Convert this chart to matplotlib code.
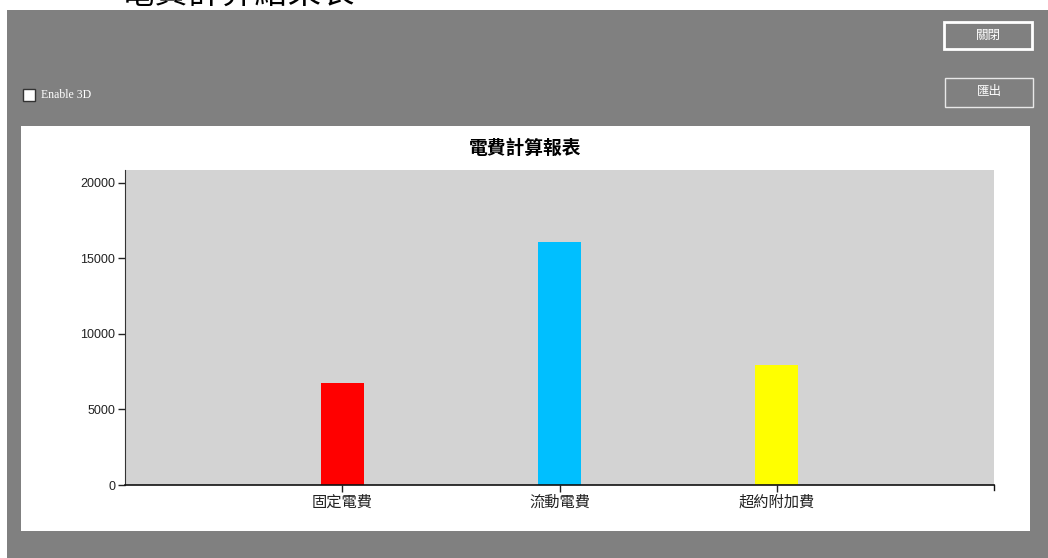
import matplotlib
matplotlib.use('Agg')
import matplotlib.pyplot as plt
from matplotlib.patches import Rectangle

plt.rcParams['font.family'] = ['Noto Sans CJK TC', 'DejaVu Sans']

# data
categories = ['固定電費', '流動電費', '超約附加費']
values = [6750, 16090, 7950]
colors = ['#FF0000', '#00BFFF', '#FFFF00']
yticks = [0, 5000, 10000, 15000, 20000]

W, H = 1048, 558
fig = plt.figure(figsize=(W / 100, H / 100), dpi=100)
fig.patch.set_facecolor('white')

def box(x0, y0, x1, y1):
    # pixel box -> figure fraction (left, bottom, width, height)
    return (x0 / W, 1 - y1 / H, (x1 - x0) / W, (y1 - y0) / H)

# heading cut off at top of screenshot (mostly hidden behind the form)
fig.text(80 / W, 1 - 3 / H, '‧ 電費計算結果表', fontsize=24, color='black',
         ha='left', va='baseline', zorder=-1)

# window form background
l, b, w, h = box(7, 10, W, H)
fig.patches.append(Rectangle((l, b), w, h, transform=fig.transFigure,
                             facecolor='#808080', edgecolor='none', zorder=0))
# chart panel
l, b, w, h = box(21, 126, 1030, 531)
fig.patches.append(Rectangle((l, b), w, h, transform=fig.transFigure,
                             facecolor='white', edgecolor='none', zorder=1))

# buttons
l, b, w, h = box(944, 22, 1032, 49)
fig.patches.append(Rectangle((l, b), w, h, transform=fig.transFigure,
                             facecolor='none', edgecolor='white', lw=2, zorder=2))
fig.text((944 + 1032) / 2 / W, 1 - 35.5 / H, '關閉', color='white', fontsize=9,
         ha='center', va='center', zorder=3)
l, b, w, h = box(945, 78, 1033, 107)
fig.patches.append(Rectangle((l, b), w, h, transform=fig.transFigure,
                             facecolor='none', edgecolor='#e8e8e8', lw=1, zorder=2))
fig.text((945 + 1033) / 2 / W, 1 - 92 / H, '匯出', color='white', fontsize=9,
         ha='center', va='center', zorder=3)

# checkbox
l, b, w, h = box(23, 89, 35, 101)
fig.patches.append(Rectangle((l, b), w, h, transform=fig.transFigure,
                             facecolor='white', edgecolor='#333333', lw=1, zorder=2))
fig.text(41 / W, 1 - 95 / H, 'Enable 3D', color='white', fontsize=8.5,
         family='Liberation Serif', ha='left', va='center', zorder=3)

# chart title (centred on the white panel)
fig.text(525 / W, 1 - 148 / H, '電費計算報表', fontsize=13.5, fontweight='bold',
         ha='center', va='center', zorder=3)

# chart
ax = fig.add_axes(box(125, 170, 994, 485))
ax.set_zorder(4)
ax.set_facecolor('#D3D3D3')
x = [1, 2, 3]
ax.bar(x, values, width=0.2, color=colors)
ax.set_xlim(0, 4)
ax.set_ylim(0, 20860)
ax.set_xticks(x)
ax.set_xticklabels(categories, fontsize=11)
ax.set_yticks(yticks)
ax.set_yticklabels([str(v) for v in yticks], fontsize=9, family='Liberation Sans')
ax.tick_params(axis='y', length=5, width=1, pad=2, colors='#222222')
ax.tick_params(axis='x', length=5, width=1, pad=1, colors='#222222')
for s in ['top', 'right']:
    ax.spines[s].set_visible(False)
ax.spines['left'].set_color('#333333')
ax.spines['bottom'].set_color('#111111')
ax.spines['bottom'].set_linewidth(1.2)
# small end tick at right of x-axis
ax.plot([4, 4], [0, -0.015], transform=ax.get_xaxis_transform(), color='#111111',
        lw=1, clip_on=False)

fig.savefig('out.png', dpi=100)
